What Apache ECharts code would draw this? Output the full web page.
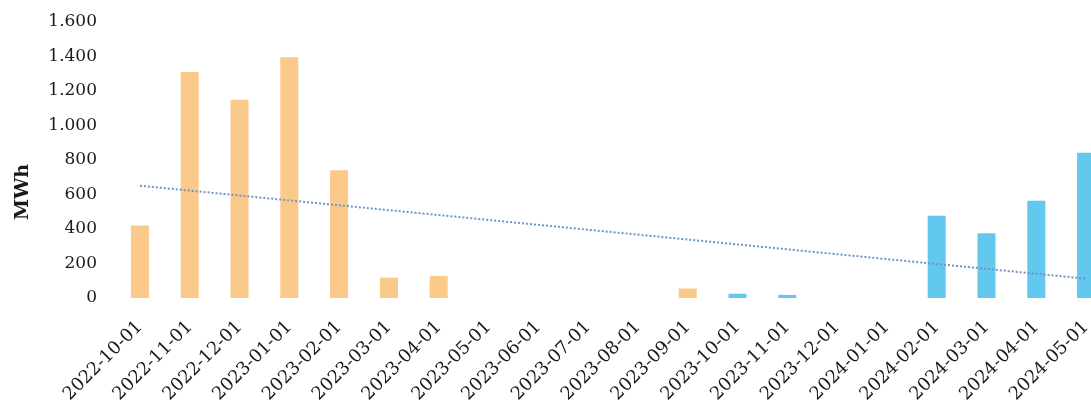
<!DOCTYPE html>
<html>
<head>
<meta charset="utf-8">
<script src="https://cdn.jsdelivr.net/npm/echarts@6/dist/echarts.min.js"></script>
<style>
  html, body { margin: 0; padding: 0; background: #fff; }
  #chart { width: 1091px; height: 400px; }
</style>
</head>
<body>
<div id="chart"></div>
<script>
// data
const months = ['2022-10-01', '2022-11-01', '2022-12-01', '2023-01-01', '2023-02-01',
  '2023-03-01', '2023-04-01', '2023-05-01', '2023-06-01', '2023-07-01', '2023-08-01',
  '2023-09-01', '2023-10-01', '2023-11-01', '2023-12-01', '2024-01-01', '2024-02-01',
  '2024-03-01', '2024-04-01', '2024-05-01']
const orangeValues = [420, 1310, 1150, 1395, 740, 118, 128, 0, 0, 0, 0, 55, null, null, null, null, null, null, null, null]
const blueValues = [null, null, null, null, null, null, null, null, null, null, null, null, 25, 18, 0, 0, 477, 375, 564, 842]
// trendline ends as seen on the chart (first and last month)
const trendValues = [651, null, null, null, null, null, null, null, null, null, null, null, null, null, null, null, null, null, null, 112]
const yTicks = [0, 200, 400, 600, 800, 1000, 1200, 1400, 1600]

const chart = echarts.init(document.getElementById('chart'))
const fontFamily = '"DejaVu Serif", "Liberation Serif", serif'

chart.setOption({
  animation: false,
  grid: {
    left: 115,
    top: 22,
    width: 996,
    height: 276,
    outerBoundsMode: 'none',
    containLabel: false
  },
  xAxis: {
    type: 'category',
    data: months,
    boundaryGap: true,
    axisLine: { show: false },
    axisTick: { show: false },
    axisLabel: {
      interval: 0,
      rotate: 45,
      margin: 26,
      color: '#1a1a1a',
      fontSize: 18,
      fontFamily: fontFamily
    }
  },
  yAxis: {
    type: 'value',
    min: yTicks[0],
    max: yTicks[yTicks.length - 1],
    interval: 200,
    name: 'MWh',
    nameLocation: 'middle',
    nameGap: 82,
    nameTextStyle: {
      fontSize: 19,
      fontWeight: 'bold',
      fontFamily: fontFamily,
      color: '#1a1a1a',
      padding: [0, 64, 0, 0]
    },
    splitLine: { show: false },
    axisLine: { show: false },
    axisTick: { show: false },
    axisLabel: {
      margin: 18,
      color: '#1a1a1a',
      fontSize: 17,
      fontFamily: fontFamily,
      formatter: function (v) {
        return String(v).replace(/\B(?=(\d{3})+(?!\d))/g, '.')
      }
    }
  },
  series: [
    {
      type: 'bar',
      data: orangeValues,
      stack: 'one',
      barWidth: 18,
      itemStyle: { color: '#fbc98a' }
    },
    {
      type: 'bar',
      data: blueValues,
      stack: 'one',
      barWidth: 18,
      itemStyle: { color: '#62c8ee' }
    },
    {
      type: 'line',
      data: trendValues,
      connectNulls: true,
      symbol: 'none',
      lineStyle: { color: '#6f95c8', width: 2, type: [2, 2] },
      z: 5
    }
  ]
})
</script>
</body>
</html>
